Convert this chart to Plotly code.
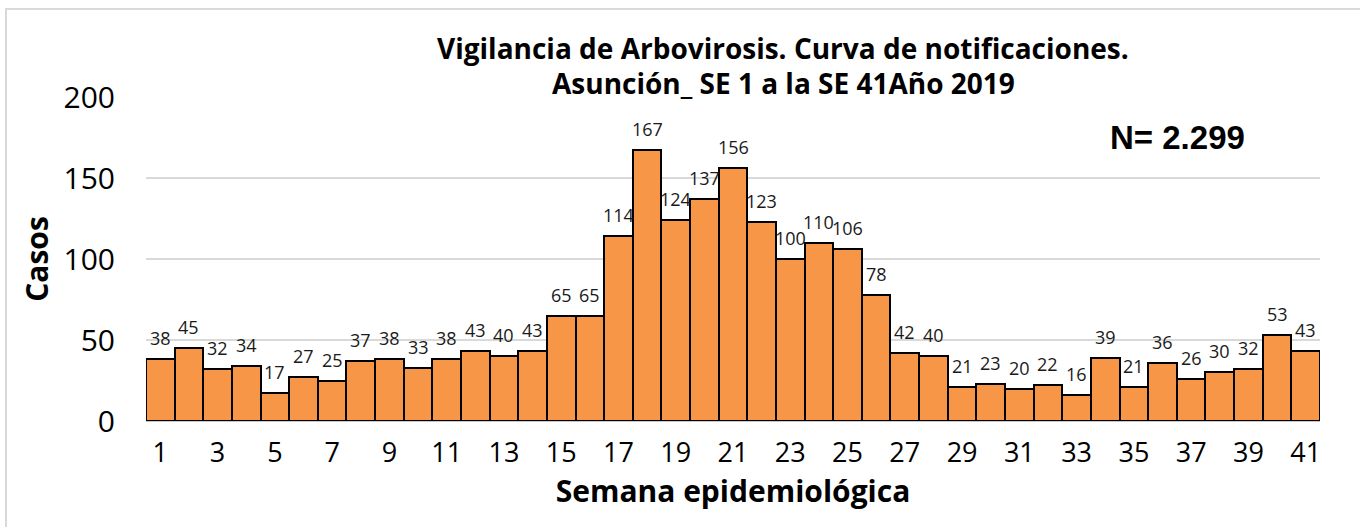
import plotly.graph_objects as go

semanas = list(range(1, 42))
casos = [38, 45, 32, 34, 17, 27, 25, 37, 38, 33, 38, 43, 40, 43, 65, 65, 114, 167, 124, 137,
         156, 123, 100, 110, 106, 78, 42, 40, 21, 23, 20, 22, 16, 39, 21, 36, 26, 30, 32, 53, 43]
x_ticks = list(range(1, 42, 2))
y_ticks = [0, 50, 100, 150, 200]

titulo1 = "Vigilancia de Arbovirosis. Curva de notificaciones."
titulo2 = "Asunción_ SE 1 a la SE 41Año 2019"
total_txt = "N= 2.299"

L, R, T, B = 146, 40, 97, 106
W, H = 1360, 527
PW, PH = W - L - R, H - T - B

def px(x):
    return (x - L) / PW

def py(y):
    return (H - B - y) / PH

fig = go.Figure()
fig.add_trace(go.Bar(
    x=semanas, y=casos, width=1,
    marker=dict(color="#F79646", line=dict(color="#000000", width=2)),
    hoverinfo="x+y",
))

annotations = []
for s, c in zip(semanas, casos):
    annotations.append(dict(x=s, y=c, xref="x", yref="y", text=str(c), showarrow=False,
                            yanchor="bottom", yshift=7,
                            font=dict(family="Open Sans", size=18, color="#1a1a1a")))
annotations += [
    dict(x=px(783), y=py(48), xref="paper", yref="paper", text=f"<b>{titulo1}</b>",
         showarrow=False, xanchor="center", yanchor="middle",
         font=dict(family="Open Sans", size=28, color="#000000")),
    dict(x=px(783), y=py(83), xref="paper", yref="paper", text=f"<b>{titulo2}</b>",
         showarrow=False, xanchor="center", yanchor="middle",
         font=dict(family="Open Sans", size=28, color="#000000")),
    dict(x=px(1177), y=py(137), xref="paper", yref="paper", text=f"<b>{total_txt}</b>",
         showarrow=False, xanchor="center", yanchor="middle",
         font=dict(family="Liberation Sans", size=33, color="#000000")),
]

fig.update_layout(
    width=W, height=H,
    margin=dict(l=L, r=R, t=T, b=B, pad=0),
    paper_bgcolor="white", plot_bgcolor="white",
    showlegend=False,
    bargap=0,
    font=dict(family="Open Sans", color="#000000"),
    annotations=annotations,
    shapes=[dict(type="rect", xref="paper", yref="paper",
                 x0=px(6), x1=px(1380), y0=py(560), y1=py(9),
                 line=dict(color="#d9d9d9", width=2), fillcolor="rgba(0,0,0,0)", layer="below")],
    xaxis=dict(
        range=[0.5, 41.5], tickmode="array", tickvals=x_ticks,
        ticktext=[str(v) for v in x_ticks],
        showgrid=False, zeroline=False, showline=False, ticks="",
        tickfont=dict(family="Open Sans", size=27, color="#000000"),
        ticklabelstandoff=13,
        title=dict(text="<b>Semana epidemiológica</b>", standoff=8,
                   font=dict(family="Open Sans", size=30, color="#000000")),
    ),
    yaxis=dict(
        range=[0, 200], tickmode="array", tickvals=y_ticks,
        showgrid=True, gridcolor="#d9d9d9", gridwidth=2,
        zeroline=True, zerolinecolor="#c8c8c8", zerolinewidth=2,
        showline=False, ticks="",
        tickfont=dict(family="Open Sans", size=30, color="#000000"),
        ticklabelstandoff=30,
        title=dict(text="<b>Casos</b>", standoff=6,
                   font=dict(family="Open Sans", size=30, color="#000000")),
    ),
)

fig.write_html("out.html", config={"displayModeBar": False},
               post_script="document.body.style.margin='0px';")
